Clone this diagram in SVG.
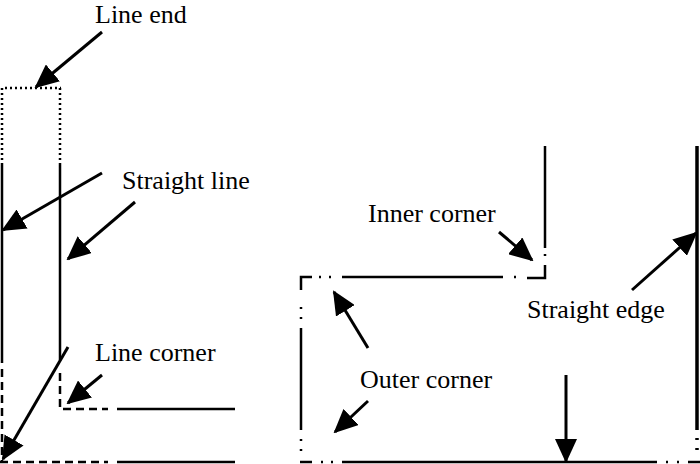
<svg xmlns="http://www.w3.org/2000/svg" width="700" height="464" viewBox="0 0 700 464">
<style>
.t{font-family:"Liberation Serif","Times New Roman",serif;font-size:26px;fill:#000}
.s{stroke:#000;stroke-width:2.5;fill:none}
.dot{stroke:#000;stroke-width:2.5;fill:none;stroke-dasharray:2 3}
.dsh{stroke:#000;stroke-width:2.5;fill:none;stroke-dasharray:8 5}
.a{stroke:#000;stroke-width:3;fill:none;marker-end:url(#ah)}
</style>
<defs>
<marker id="ah" markerUnits="userSpaceOnUse" markerWidth="24" markerHeight="22" viewBox="0 0 24 22" refX="22" refY="11" orient="auto">
<path d="M0,0 L24,11 L0,22 z" fill="#000"/>
</marker>
</defs>
<rect width="700" height="464" fill="#fff"/>
<g id="left-figure">
<path class="dot" d="M2,165 V88 H61 M60,88 V165"/>
<path class="s" d="M2,165 V363 M60,165 V360"/>
<path class="dsh" d="M2,369 V462 M60,373 V409 H108 M0,462 H108"/>
<path class="s" d="M117,409 H235 M117,462 H235"/>
</g>
<g id="right-figure">
<path class="s" d="M545,146 V248 M545,254 V256 M545,265 V278 H527 M516,277 H514 M503,277 H342 M331,277 H329 M321,277 H319 M312,277 H301 V290 M301,307 V309 M301,317 V319 M301,328 V430 M301,439 V441 M301,449 V451 M300,462 H312 M321,462 H323 M331,462 H333 M342,462 H657 M666,462 H668 M677,462 H679 M688,462 H700"/>
<path d="M697,146 V430 M697,438 V440 M697,448 V450" stroke="#000" stroke-width="3.5" fill="none"/>
</g>
<g id="labels">
<text class="t" x="95" y="23">Line end</text>
<text class="t" x="122" y="189">Straight line</text>
<text class="t" x="95" y="361">Line corner</text>
<text class="t" x="368" y="222">Inner corner</text>
<text class="t" x="527" y="318">Straight edge</text>
<text class="t" x="360" y="388">Outer corner</text>
</g>
<g id="connectors">
<line class="a" x1="102" y1="32" x2="36" y2="87"/>
<line class="a" x1="102" y1="173" x2="3" y2="230"/>
<line class="a" x1="135" y1="202" x2="68" y2="259"/>
<line class="a" x1="68" y1="347" x2="3" y2="459"/>
<line class="a" x1="102" y1="375" x2="68" y2="403"/>
<line class="a" x1="499" y1="232" x2="532" y2="260"/>
<line class="a" x1="632" y1="290" x2="696" y2="233"/>
<line class="a" x1="368" y1="348" x2="334" y2="292"/>
<line class="a" x1="368" y1="401" x2="335" y2="432"/>
<line class="a" x1="566" y1="375" x2="566" y2="461"/>
</g>
</svg>
